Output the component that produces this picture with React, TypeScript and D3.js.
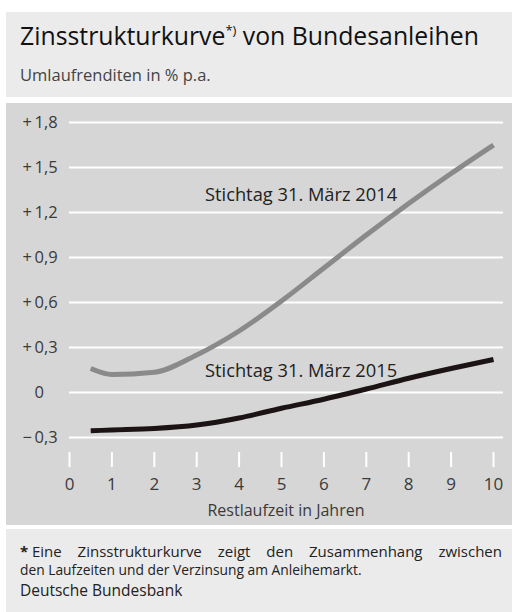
import React, { useEffect, useRef } from 'react';
import * as d3 from 'd3';

// Restlaufzeit in Jahren
const years = [0.5, 1, 2, 3, 4, 5, 6, 7, 8, 9, 10];
// Stichtag 31. März 2014
const yields2014 = [0.16, 0.12, 0.135, 0.25, 0.41, 0.61, 0.83, 1.05, 1.26, 1.46, 1.65];
// Stichtag 31. März 2015
const yields2015 = [-0.255, -0.25, -0.24, -0.217, -0.17, -0.105, -0.045, 0.023, 0.095, 0.16, 0.22];

const yTicks = [-0.3, 0, 0.3, 0.6, 0.9, 1.2, 1.5, 1.8];
const xTicks = [0, 1, 2, 3, 4, 5, 6, 7, 8, 9, 10];

const FONT = '"Open Sans", "Noto Sans", sans-serif';

const App = () => {
    const svgRef = useRef<SVGSVGElement>(null);

    useEffect(() => {
        const svg = d3.select(svgRef.current);
        const width = 512;
        const height = 612;

        svg.selectAll('*').remove();

        // Hintergrundflächen
        svg.append('rect').attr('x', 6).attr('y', 12).attr('width', width - 6).attr('height', 85).attr('fill', '#ebebeb');
        svg.append('rect').attr('x', 6).attr('y', 103).attr('width', width - 6).attr('height', 422).attr('fill', '#d6d6d6');
        svg.append('rect').attr('x', 6).attr('y', 529).attr('width', width - 6).attr('height', height - 529).attr('fill', '#ebebeb');

        // Titel
        const title = svg.append('text')
            .attr('x', 20).attr('y', 45)
            .attr('font-family', FONT).attr('font-size', 24.8).attr('fill', '#111');
        title.append('tspan').text('Zinsstrukturkurve');
        title.append('tspan').attr('font-size', 13).attr('dy', -10).text('*)');
        title.append('tspan').attr('dy', 10).text(' von Bundesanleihen');

        svg.append('text')
            .attr('x', 20).attr('y', 81)
            .attr('font-family', FONT).attr('font-size', 16.5).attr('fill', '#444')
            .text('Umlaufrenditen in % p.a.');

        const x = d3.scaleLinear().domain([0, 10]).range([69.5, 493.5]);
        const y = d3.scaleLinear().domain([0, 1.8]).range([392.5, 122.5]);

        // Gitterlinien
        svg.append('g')
            .selectAll('line')
            .data(yTicks)
            .join('line')
            .attr('x1', 69).attr('x2', 503)
            .attr('y1', d => y(d)).attr('y2', d => y(d))
            .attr('stroke', '#fff').attr('stroke-width', 2);

        // y-Beschriftung, am Komma ausgerichtet
        const commaX = 44;
        const yLab = svg.append('g')
            .selectAll('g')
            .data(yTicks)
            .join('g')
            .attr('font-family', FONT).attr('font-size', 16.5).attr('fill', '#3a3a3a');

        yLab.append('text')
            .attr('x', commaX).attr('y', d => y(d))
            .attr('dy', '0.35em')
            .attr('text-anchor', 'end')
            .text(d => {
                if (d === 0) return '0';
                const intPart = Math.floor(Math.abs(d) + 1e-9);
                return (d > 0 ? '+\u2009' : '\u2212\u2009') + intPart;
            });

        yLab.filter(d => d !== 0).append('text')
            .attr('x', commaX).attr('y', d => y(d))
            .attr('dy', '0.35em')
            .text(d => ',' + Math.round((Math.abs(d) % 1) * 10));

        // x-Achse
        svg.append('g')
            .selectAll('line')
            .data(xTicks)
            .join('line')
            .attr('x1', d => x(d)).attr('x2', d => x(d))
            .attr('y1', 452).attr('y2', 467)
            .attr('stroke', '#fff').attr('stroke-width', 2);

        svg.append('g')
            .selectAll('text')
            .data(xTicks)
            .join('text')
            .attr('x', d => x(d)).attr('y', 490)
            .attr('text-anchor', 'middle')
            .attr('font-family', FONT).attr('font-size', 17).attr('fill', '#3a3a3a')
            .text(d => String(d));

        svg.append('text')
            .attr('x', 286).attr('y', 516)
            .attr('text-anchor', 'middle')
            .attr('font-family', FONT).attr('font-size', 16).attr('fill', '#3a3a3a')
            .text('Restlaufzeit in Jahren');

        // Kurven
        const line = d3.line<number>()
            .x((d, i) => x(years[i]))
            .y(d => y(d))
            .curve(d3.curveMonotoneX);

        svg.append('path')
            .attr('d', line(yields2014))
            .attr('fill', 'none').attr('stroke', '#8a8a8a').attr('stroke-width', 5);

        svg.append('path')
            .attr('d', line(yields2015))
            .attr('fill', 'none').attr('stroke', '#1c1414').attr('stroke-width', 5);

        svg.append('text')
            .attr('x', 205).attr('y', 200.5)
            .attr('font-family', FONT).attr('font-size', 18.3).attr('fill', '#222')
            .text('Stichtag 31. März 2014');

        svg.append('text')
            .attr('x', 205).attr('y', 377)
            .attr('font-family', FONT).attr('font-size', 18.3).attr('fill', '#222')
            .text('Stichtag 31. März 2015');

        // Fußnote (erste Zeile im Blocksatz über Wortabstand)
        const fn1 = svg.append('text')
            .attr('x', 20).attr('y', 557)
            .attr('font-family', FONT).attr('font-size', 15).attr('fill', '#222');
        fn1.append('tspan').attr('font-weight', 'bold').text('*');
        fn1.append('tspan').text('\u2005Eine Zinsstrukturkurve zeigt den Zusammenhang zwischen');
        const natural = (fn1.node() as SVGTextElement).getComputedTextLength();
        const gaps = 5;
        fn1.attr('word-spacing', Math.max(0, (482 - natural) / gaps));

        svg.append('text')
            .attr('x', 20).attr('y', 575)
            .attr('font-family', FONT).attr('font-size', 13.8).attr('fill', '#222')
            .text('den Laufzeiten und der Verzinsung am Anleihemarkt.');

        svg.append('text')
            .attr('x', 20).attr('y', 596)
            .attr('font-family', FONT).attr('font-size', 15.5).attr('fill', '#222')
            .text('Deutsche Bundesbank');
    }, []);

    return (
        <svg
            ref={svgRef}
            width={512}
            height={612}
            style={{ position: 'absolute', left: 0, top: 0, background: '#fff' }}
        ></svg>
    );
};

export default App;
